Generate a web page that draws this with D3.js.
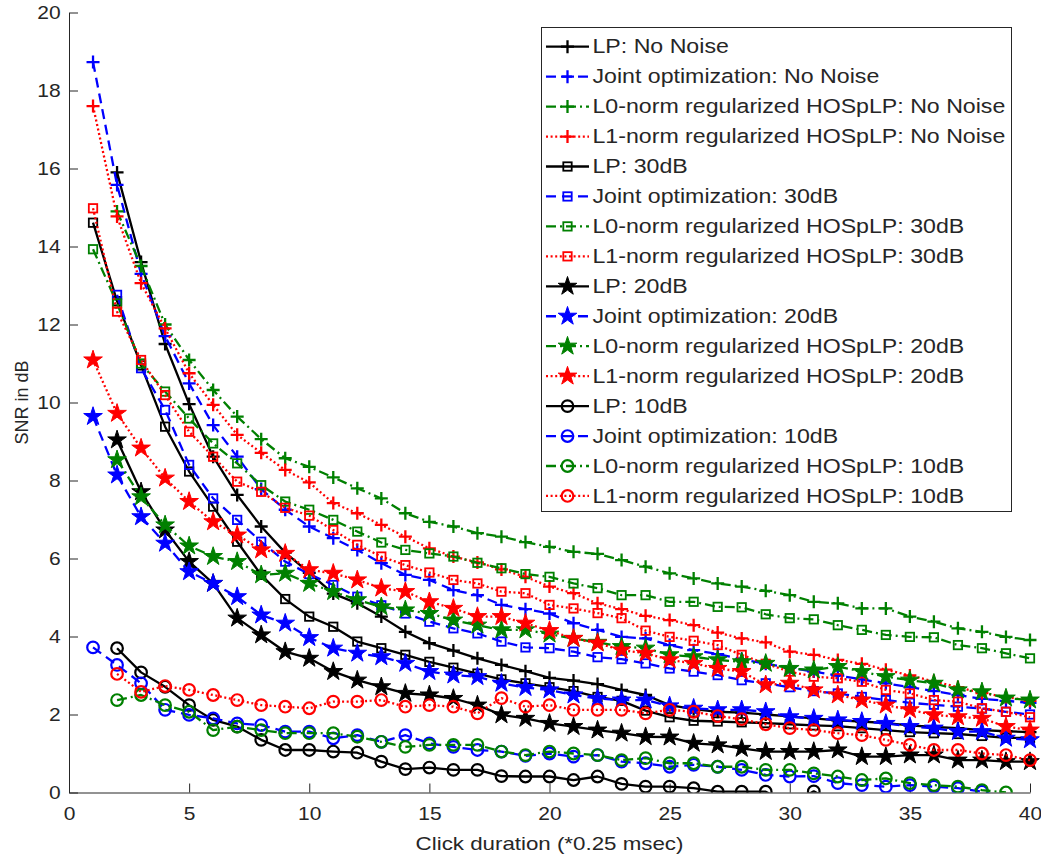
<!DOCTYPE html>
<html>
<head>
<meta charset="utf-8">
<script src="https://cdn.jsdelivr.net/npm/d3@7"></script>
<style>
  body { margin: 0; background: #fff; }
  svg { display: block; }
  text { font-family: "Liberation Sans", Arial, Helvetica, sans-serif; fill: #262626; }
</style>
</head>
<body>
<svg id="chart" width="1041" height="859"></svg>
<script>
// ---- axis ticks ----
const xTicks = [0, 5, 10, 15, 20, 25, 30, 35, 40];
const yTicks = [0, 2, 4, 6, 8, 10, 12, 14, 16, 18, 20];

// ---- SNR (dB) per click duration; each series lists values from its first duration ----
// No noise
const lpNoNoiseStart = 2;
const lpNoNoise = [15.9, 13.6, 11.5, 9.96, 8.61, 7.63, 6.82, 6.15, 5.63, 5.1, 4.85, 4.51, 4.12, 3.83, 3.64, 3.44, 3.27, 3.11, 2.94, 2.87, 2.78, 2.63, 2.5, 2.24, 2.14, 2.07, 2.05, 2.0, 1.95, 1.9, 1.85, 1.82, 1.78, 1.72, 1.68, 1.65, 1.6, 1.57, 1.55];
const jointNoNoiseStart = 1;
const jointNoNoise = [18.73, 15.58, 13.3, 11.7, 10.49, 9.42, 8.61, 7.78, 7.25, 6.82, 6.52, 6.22, 5.88, 5.58, 5.45, 5.19, 5.06, 4.81, 4.7, 4.59, 4.34, 4.17, 3.99, 3.95, 3.78, 3.65, 3.55, 3.42, 3.3, 3.2, 3.1, 3.0, 2.9, 2.8, 2.7, 2.6, 2.5, 2.4, 2.35, 2.3];
const l0NoNoiseStart = 2;
const l0NoNoise = [14.9, 13.5, 12.0, 11.09, 10.32, 9.64, 9.06, 8.57, 8.35, 8.08, 7.8, 7.54, 7.16, 6.94, 6.82, 6.65, 6.56, 6.42, 6.3, 6.17, 6.12, 5.96, 5.79, 5.62, 5.49, 5.36, 5.28, 5.17, 5.06, 4.89, 4.85, 4.72, 4.72, 4.51, 4.38, 4.21, 4.12, 3.99, 3.91];
const l1NoNoiseStart = 1;
const l1NoNoise = [17.6, 14.77, 13.06, 11.9, 10.75, 9.94, 9.17, 8.71, 8.27, 7.95, 7.42, 7.16, 6.86, 6.56, 6.26, 6.05, 5.9, 5.72, 5.53, 5.28, 5.11, 4.85, 4.7, 4.53, 4.42, 4.29, 4.1, 3.95, 3.85, 3.61, 3.53, 3.4, 3.3, 3.15, 3.0, 2.85, 2.7, 2.55, 2.45, 2.35];

// 30 dB
const lp30Start = 1;
const lp30 = [14.61, 12.6, 10.95, 9.38, 8.23, 7.33, 6.43, 5.58, 4.96, 4.51, 4.25, 3.87, 3.7, 3.53, 3.35, 3.2, 3.05, 2.9, 2.8, 2.7, 2.6, 2.45, 2.35, 2.1, 1.93, 1.84, 1.82, 1.8, 1.78, 1.75, 1.72, 1.7, 1.65, 1.6, 1.55, 1.52, 1.5, 1.45, 1.4, 1.4];
const joint30Start = 2;
const joint30 = [12.76, 10.88, 9.81, 8.4, 7.54, 6.99, 6.43, 5.92, 5.6, 5.32, 5.02, 4.8, 4.59, 4.38, 4.21, 4.08, 3.87, 3.72, 3.7, 3.61, 3.47, 3.42, 3.31, 3.18, 3.1, 3.01, 2.88, 2.8, 2.7, 2.6, 2.54, 2.45, 2.37, 2.3, 2.25, 2.2, 2.15, 2.07, 2.0];
const l030Start = 1;
const l030 = [13.93, 12.54, 11.0, 10.28, 9.59, 8.95, 8.44, 7.88, 7.46, 7.25, 6.99, 6.69, 6.41, 6.22, 6.13, 6.05, 5.89, 5.75, 5.6, 5.53, 5.36, 5.24, 5.06, 5.06, 4.89, 4.89, 4.76, 4.75, 4.57, 4.47, 4.44, 4.29, 4.17, 4.04, 3.99, 3.98, 3.78, 3.7, 3.57, 3.44];
const l130Start = 1;
const l130 = [14.98, 12.33, 11.09, 10.19, 9.25, 8.61, 7.97, 7.71, 7.3, 7.1, 6.73, 6.35, 6.05, 5.83, 5.64, 5.45, 5.36, 5.15, 5.11, 4.81, 4.72, 4.6, 4.47, 4.15, 3.99, 3.89, 3.78, 3.53, 3.3, 3.1, 2.97, 2.93, 2.84, 2.63, 2.54, 2.37, 2.33, 2.16, 2.07, 1.93];

// 20 dB
const lp20Start = 2;
const lp20 = [9.04, 7.71, 6.73, 5.92, 5.36, 4.47, 4.04, 3.61, 3.44, 3.1, 2.88, 2.71, 2.54, 2.5, 2.41, 2.24, 1.99, 1.9, 1.77, 1.69, 1.6, 1.52, 1.43, 1.42, 1.26, 1.22, 1.13, 1.05, 1.05, 1.05, 1.09, 0.92, 0.92, 0.96, 0.96, 0.83, 0.83, 0.79, 0.79];
const joint20Start = 1;
const joint20 = [9.64, 8.14, 7.07, 6.39, 5.66, 5.36, 5.02, 4.55, 4.34, 3.97, 3.7, 3.57, 3.48, 3.31, 3.1, 3.01, 2.97, 2.8, 2.69, 2.63, 2.5, 2.41, 2.37, 2.37, 2.22, 2.16, 2.12, 2.12, 2.07, 1.94, 1.9, 1.86, 1.82, 1.77, 1.69, 1.65, 1.56, 1.56, 1.39, 1.35];
const l020Start = 2;
const l020 = [8.53, 7.58, 6.86, 6.32, 6.05, 5.92, 5.58, 5.62, 5.36, 5.15, 4.94, 4.76, 4.68, 4.59, 4.42, 4.29, 4.17, 4.17, 4.06, 3.95, 3.85, 3.74, 3.7, 3.53, 3.48, 3.4, 3.35, 3.31, 3.18, 3.14, 3.23, 3.1, 2.97, 2.88, 2.8, 2.63, 2.58, 2.42, 2.37];
const l120Start = 1;
const l120 = [11.09, 9.72, 8.83, 8.06, 7.46, 6.94, 6.6, 6.22, 6.13, 5.71, 5.62, 5.45, 5.24, 5.15, 4.89, 4.72, 4.51, 4.51, 4.34, 4.15, 3.95, 3.83, 3.65, 3.57, 3.4, 3.31, 3.18, 3.1, 2.76, 2.8, 2.63, 2.5, 2.37, 2.24, 2.12, 1.99, 1.94, 1.9, 1.69, 1.6];

// 10 dB
const lp10Start = 2;
const lp10 = [3.7, 3.08, 2.71, 2.24, 1.86, 1.69, 1.35, 1.09, 1.09, 1.05, 1.02, 0.79, 0.6, 0.64, 0.58, 0.58, 0.42, 0.41, 0.41, 0.32, 0.41, 0.22, 0.15, 0.15, 0.11, 0.02, 0.02, 0.02, -0.3, 0.03, -0.3];
const joint10Start = 1;
const joint10 = [3.72, 3.27, 2.8, 2.12, 1.99, 1.9, 1.77, 1.73, 1.56, 1.56, 1.39, 1.47, 1.3, 1.47, 1.26, 1.17, 1.09, 1.05, 0.94, 1.0, 0.92, 0.96, 0.79, 0.75, 0.66, 0.71, 0.66, 0.58, 0.45, 0.41, 0.42, 0.24, 0.19, 0.15, 0.19, 0.15, 0.11, 0.02, -0.15];
const l010Start = 2;
const l010 = [2.37, 2.5, 2.24, 2.07, 1.6, 1.69, 1.6, 1.52, 1.52, 1.52, 1.43, 1.3, 1.17, 1.22, 1.22, 1.22, 1.05, 0.96, 1.05, 1.0, 0.96, 0.83, 0.88, 0.75, 0.75, 0.66, 0.66, 0.58, 0.58, 0.49, 0.41, 0.32, 0.36, 0.24, 0.19, 0.15, 0.06, 0.0];
const l110Start = 2;
const l110 = [3.04, 2.58, 2.73, 2.63, 2.5, 2.37, 2.24, 2.2, 2.16, 2.33, 2.33, 2.37, 2.2, 2.24, 2.2, 2.03, 2.42, 2.2, 2.24, 2.12, 2.12, 2.12, 2.03, 2.12, 2.07, 1.96, 1.88, 1.75, 1.65, 1.6, 1.52, 1.47, 1.35, 1.22, 1.09, 1.09, 1.0, 0.96, 0.83];

// ---- series styling (MATLAB-like) ----
const C = { k: "#000000", b: "#0000ff", g: "#008000", r: "#ff0000" };
const DASH = { solid: null, dashed: "10,6", dashdot: "10,4,2,4", dotted: "2,2.6" };

const series = [
  { name: "LP: No Noise", vals: lpNoNoise, start: lpNoNoiseStart, color: C.k, dash: DASH.solid, marker: "plus" },
  { name: "Joint optimization: No Noise", vals: jointNoNoise, start: jointNoNoiseStart, color: C.b, dash: DASH.dashed, marker: "plus" },
  { name: "L0-norm regularized HOSpLP: No Noise", vals: l0NoNoise, start: l0NoNoiseStart, color: C.g, dash: DASH.dashdot, marker: "plus" },
  { name: "L1-norm regularized HOSpLP: No Noise", vals: l1NoNoise, start: l1NoNoiseStart, color: C.r, dash: DASH.dotted, marker: "plus" },
  { name: "LP: 30dB", vals: lp30, start: lp30Start, color: C.k, dash: DASH.solid, marker: "square" },
  { name: "Joint optimization: 30dB", vals: joint30, start: joint30Start, color: C.b, dash: DASH.dashed, marker: "square" },
  { name: "L0-norm regularized HOSpLP: 30dB", vals: l030, start: l030Start, color: C.g, dash: DASH.dashdot, marker: "square" },
  { name: "L1-norm regularized HOSpLP: 30dB", vals: l130, start: l130Start, color: C.r, dash: DASH.dotted, marker: "square" },
  { name: "LP: 20dB", vals: lp20, start: lp20Start, color: C.k, dash: DASH.solid, marker: "star" },
  { name: "Joint optimization: 20dB", vals: joint20, start: joint20Start, color: C.b, dash: DASH.dashed, marker: "star" },
  { name: "L0-norm regularized HOSpLP: 20dB", vals: l020, start: l020Start, color: C.g, dash: DASH.dashdot, marker: "star" },
  { name: "L1-norm regularized HOSpLP: 20dB", vals: l120, start: l120Start, color: C.r, dash: DASH.dotted, marker: "star" },
  { name: "LP: 10dB", vals: lp10, start: lp10Start, color: C.k, dash: DASH.solid, marker: "circle" },
  { name: "Joint optimization: 10dB", vals: joint10, start: joint10Start, color: C.b, dash: DASH.dashed, marker: "circle" },
  { name: "L0-norm regularized HOSpLP: 10dB", vals: l010, start: l010Start, color: C.g, dash: DASH.dashdot, marker: "circle" },
  { name: "L1-norm regularized HOSpLP: 10dB", vals: l110, start: l110Start, color: C.r, dash: DASH.dotted, marker: "circle" }
];

// ---- layout ----
const svg = d3.select("#chart");
const plot = { left: 69, right: 1030, top: 12.5, bottom: 792.5 };
const TEXT_STRETCH = 1.2;
const LINE_W = 2.3;

const x = d3.scaleLinear().domain([0, 40]).range([plot.left, plot.right]);
const y = d3.scaleLinear().domain([0, 20]).range([plot.bottom, plot.top]);

svg.append("defs").append("clipPath").attr("id", "plotClip")
  .append("rect")
  .attr("x", plot.left).attr("y", plot.top - 10)
  .attr("width", plot.right - plot.left + 10)
  .attr("height", plot.bottom - plot.top + 10);

// ---- axes (inward ticks, no box) ----
const xAxis = d3.axisBottom(x).tickValues(xTicks).tickFormat(d3.format("d"))
  .tickSizeInner(-9).tickSizeOuter(0).tickPadding(15);
const gx = svg.append("g").attr("transform", `translate(0,${plot.bottom})`).call(xAxis);

const yAxis = d3.axisLeft(y).tickValues(yTicks).tickFormat(d3.format("d"))
  .tickSizeInner(-9).tickSizeOuter(0).tickPadding(7);
const gy = svg.append("g").attr("transform", `translate(${plot.left},0)`).call(yAxis);

[gx, gy].forEach(g => {
  g.select(".domain").attr("stroke", "#262626").attr("stroke-width", 1);
  g.selectAll(".tick line").attr("stroke", "#262626").attr("stroke-width", 1);
  g.selectAll(".tick text")
    .attr("fill", "#262626")
    .style("font-size", "17.5px")
    .style("font-family", '"Liberation Sans", Arial, sans-serif')
    .attr("transform", `scale(${TEXT_STRETCH},1)`);
});

svg.append("text")
  .attr("transform", `translate(${(plot.left + plot.right) / 2},850) scale(${TEXT_STRETCH},1)`)
  .attr("text-anchor", "middle")
  .style("font-size", "18.6px")
  .text("Click duration (*0.25 msec)");

svg.append("text")
  .attr("transform", `translate(28,${(plot.top + plot.bottom) / 2}) rotate(-90)`)
  .attr("text-anchor", "middle")
  .style("font-size", "18px")
  .text("SNR in dB");

// ---- markers ----
function starPath(r) {
  const pts = [];
  const ri = r * 0.382;
  for (let i = 0; i < 10; i++) {
    const a = -Math.PI / 2 + i * Math.PI / 5;
    const rr = i % 2 === 0 ? r : ri;
    pts.push([rr * Math.cos(a), rr * Math.sin(a)]);
  }
  return "M" + pts.map(p => p[0].toFixed(2) + "," + p[1].toFixed(2)).join("L") + "Z";
}

function drawMarker(g, type, color, cx, cy) {
  const m = g.append("g").attr("transform", `translate(${cx},${cy})`);
  if (type === "plus") {
    m.append("path").attr("d", "M-6.5,0H6.5M0,-6.5V6.5")
      .attr("stroke", color).attr("stroke-width", 2.3).attr("fill", "none");
  } else if (type === "square") {
    m.append("rect").attr("x", -4.2).attr("y", -4.2).attr("width", 8.4).attr("height", 8.4)
      .attr("stroke", color).attr("stroke-width", 1.8).attr("fill", "none");
  } else if (type === "star") {
    m.append("path").attr("d", starPath(9.8))
      .attr("fill", color).attr("stroke", color).attr("stroke-width", 1).attr("stroke-linejoin", "round");
  } else if (type === "circle") {
    m.append("circle").attr("r", 5.8)
      .attr("stroke", color).attr("stroke-width", 2.2).attr("fill", "none");
  }
}

// ---- series lines and markers ----
const line = d3.line().x(d => x(d.x)).y(d => y(d.y));
const plotG = svg.append("g").attr("clip-path", "url(#plotClip)");

series.forEach(s => {
  const pts = s.vals.map((v, i) => ({ x: s.start + i, y: v }));
  const g = plotG.append("g");
  g.append("path")
    .attr("d", line(pts))
    .attr("fill", "none")
    .attr("stroke", s.color)
    .attr("stroke-width", LINE_W)
    .attr("stroke-linejoin", "round")
    .attr("stroke-dasharray", s.dash);
  pts.filter(p => p.y >= 0).forEach(p => drawMarker(g, s.marker, s.color, x(p.x), y(p.y)));
});

// ---- legend ----
const legend = { x0: 541.5, y0: 27.5, x1: 1011.5, y1: 511.5, row0: 46.7, step: 29.95 };
const lg = svg.append("g");
lg.append("rect")
  .attr("x", legend.x0).attr("y", legend.y0)
  .attr("width", legend.x1 - legend.x0).attr("height", legend.y1 - legend.y0)
  .attr("fill", "#fff").attr("stroke", "#262626").attr("stroke-width", 1);

series.forEach((s, i) => {
  const cy = legend.row0 + i * legend.step;
  const row = lg.append("g");
  row.append("path")
    .attr("d", `M546,${cy}H589`)
    .attr("stroke", s.color).attr("stroke-width", LINE_W).attr("fill", "none")
    .attr("stroke-dasharray", s.dash);
  drawMarker(row, s.marker, s.color, 567.5, cy);
  row.append("text")
    .attr("transform", `translate(592.5,${cy}) scale(${TEXT_STRETCH},1)`)
    .attr("dy", "0.35em")
    .style("font-size", "19.3px")
    .text(s.name);
});
</script>
</body>
</html>
